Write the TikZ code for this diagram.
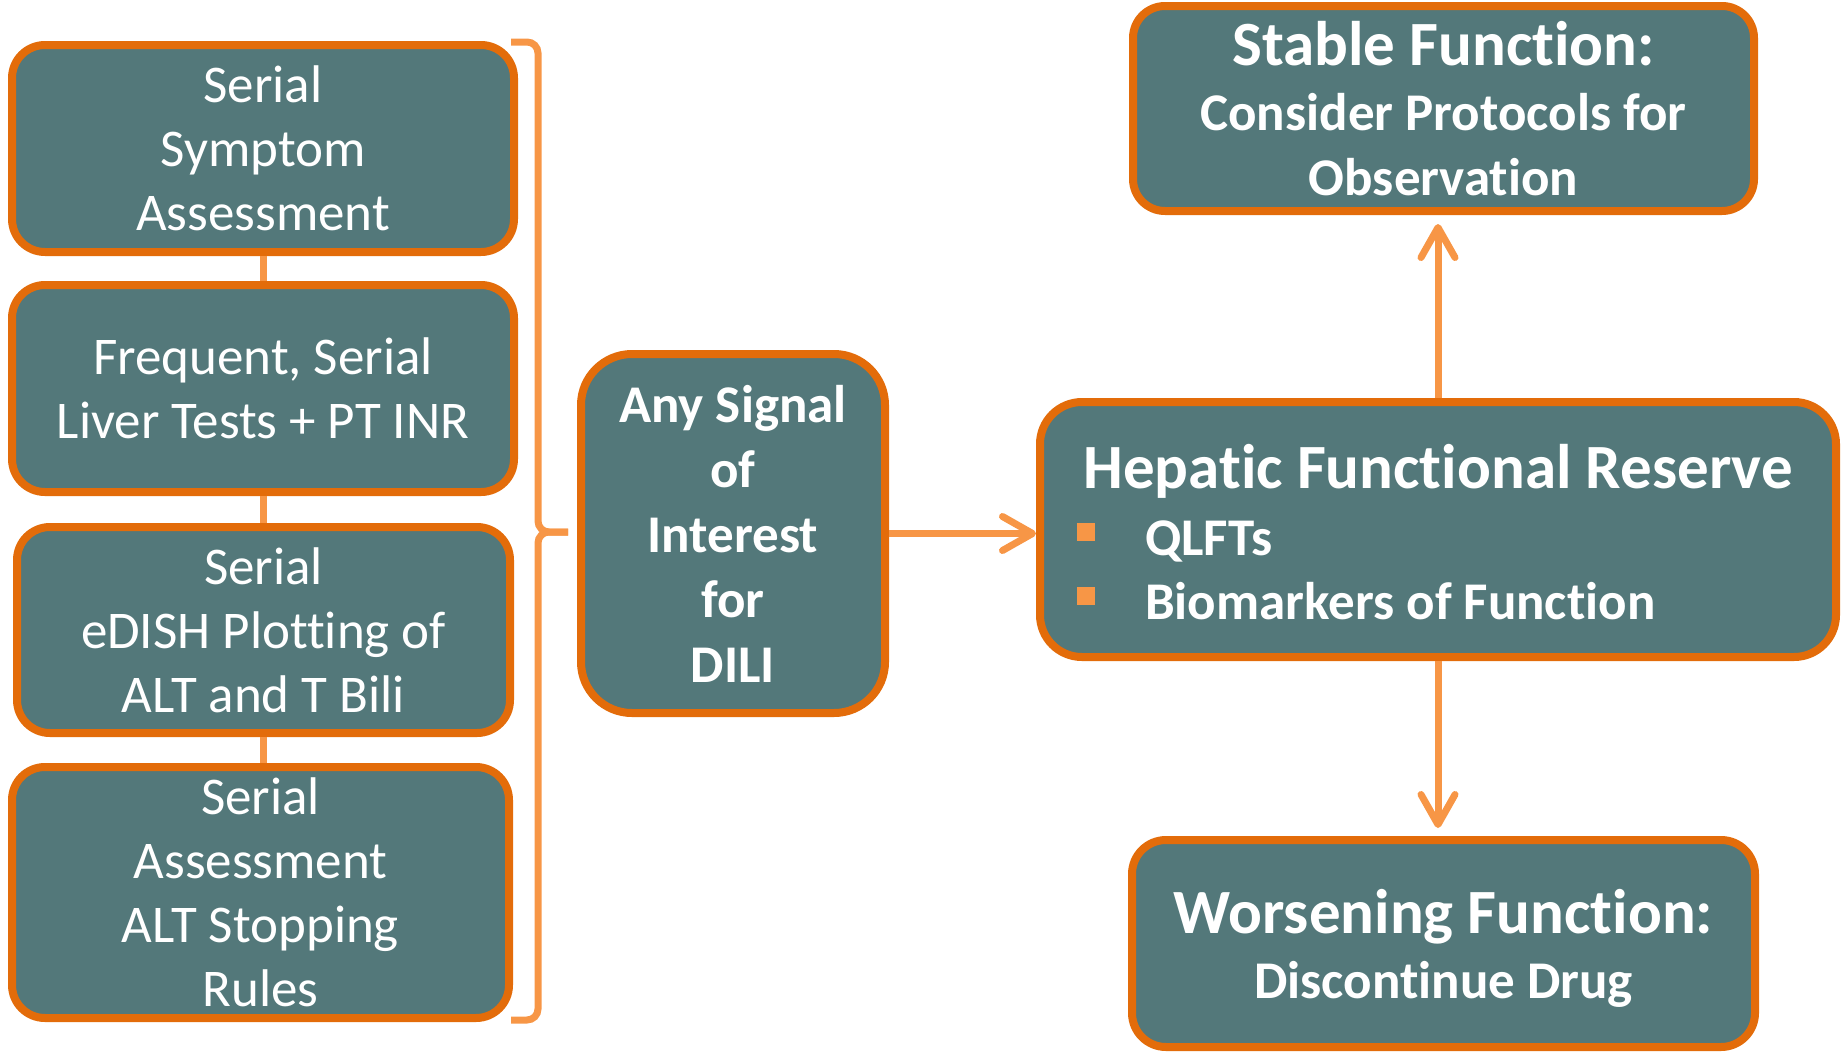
\documentclass[tikz,border=0pt]{standalone}
\usepackage{fontspec}
\setmainfont{Carlito}[Ligatures={NoCommon,NoContextual}, Contextuals={NoAlternate}]
\usetikzlibrary{arrows.meta}
\definecolor{boxfill}{RGB}{83,120,122}
\definecolor{boxedge}{RGB}{227,108,10}
\definecolor{linkc}{RGB}{247,150,70}
\begin{document}
\begin{tikzpicture}[x=1pt,y=-1pt,
  box/.style={draw=boxedge, fill=boxfill, line width=8pt, text=white,
              align=center, inner sep=0pt},
  lbox/.style={box, rounded corners=33pt, font=\fontsize{53}{64}\selectfont},
  rbox/.style={box, font=\bfseries\fontsize{53}{65}\selectfont},
  link/.style={draw=linkc, line width=7pt},
  arrow/.style={link, -{Straight Barb[length=30pt,width=34pt,round]}},
  bigline/.style={font=\bfseries\fontsize{63}{65}\selectfont},
  inner/.style={text=white, inner sep=0pt, font=\bfseries\fontsize{53}{64}\selectfont},
]
\useasboundingbox (0,0) rectangle (1845,1053);

% monitoring steps on the left
\node[lbox, minimum width=502pt, minimum height=207pt] (b1) at (263,148.5)
  {Serial\\Symptom\\Assessment};
\node[lbox, minimum width=502pt, minimum height=207pt] (b2) at (263,388.5)
  {Frequent, Serial\\Liver Tests + PT INR};
\node[lbox, minimum width=493pt, minimum height=206pt] (b3) at (263.5,630)
  {Serial\\eDISH Plotting of\\ALT and T Bili};
\node[lbox, minimum width=497pt, minimum height=251pt] (b4) at (260.5,892.5)
  {Serial\\Assessment\\ALT Stopping\\Rules};

% short links joining the steps (anchors already sit on the outer border edge)
\draw[link] (b1.south) -- (b1.south |- b2.north);
\draw[link] (b2.south) -- (b2.south |- b3.north);
\draw[link] (b3.south) -- (b3.south |- b4.north);

% brace gathering the steps
\coordinate (brTop) at (511,42);
\coordinate (brTip) at (568,532);
\coordinate (brBot) at (511,1020);
\draw[link, rounded corners=11pt] (brTop) -- (538,42) -- (538,532) -- (brTip);
\draw[link, rounded corners=11pt] (brTip) -- (538,532) -- (538,1020) -- (brBot);

% signal box
\node[rbox, rounded corners=51pt, minimum width=304pt, minimum height=359pt] (dili)
  at (733,533.5) {Any Signal\\of\\Interest\\for\\DILI};

% reserve box with its bullet list
\node[box, rounded corners=42pt, minimum width=796pt, minimum height=255pt] (hep)
  at (1438,529.5) {};
\node[inner, bigline, anchor=base] (hepTitle) at (1438,488) {Hepatic Functional Reserve};
\node[inner, anchor=base west] (hepA) at (1145,555) {QLFTs};
\node[inner, anchor=base west] (hepB) at (1145,619) {Biomarkers of Function};
\fill[linkc] (1077,523) rectangle (1095,541);
\fill[linkc] (1077,587) rectangle (1095,605);

% outcomes
\node[rbox, rounded corners=32pt, minimum width=621pt, minimum height=205pt] (stable)
  at (1443.5,108.5)
  {{\fontsize{63}{65}\selectfont Stable Function:}\\Consider Protocols for\\Observation};
\node[rbox, rounded corners=34pt, minimum width=623pt, minimum height=207pt,
      text depth=0pt] (worse) at (1443.5,943.5)
  {{\fontsize{63}{65}\selectfont Worsening Function:}\\Discontinue Drug};

% arrows
\draw[arrow] (dili.east) -- (dili.east -| hep.west);
\draw[arrow, shorten >=9pt] (hep.north) -- (hep.north |- stable.south);
\draw[arrow, shorten >=8pt] (hep.south) -- (hep.south |- worse.north);
\end{tikzpicture}
\end{document}
